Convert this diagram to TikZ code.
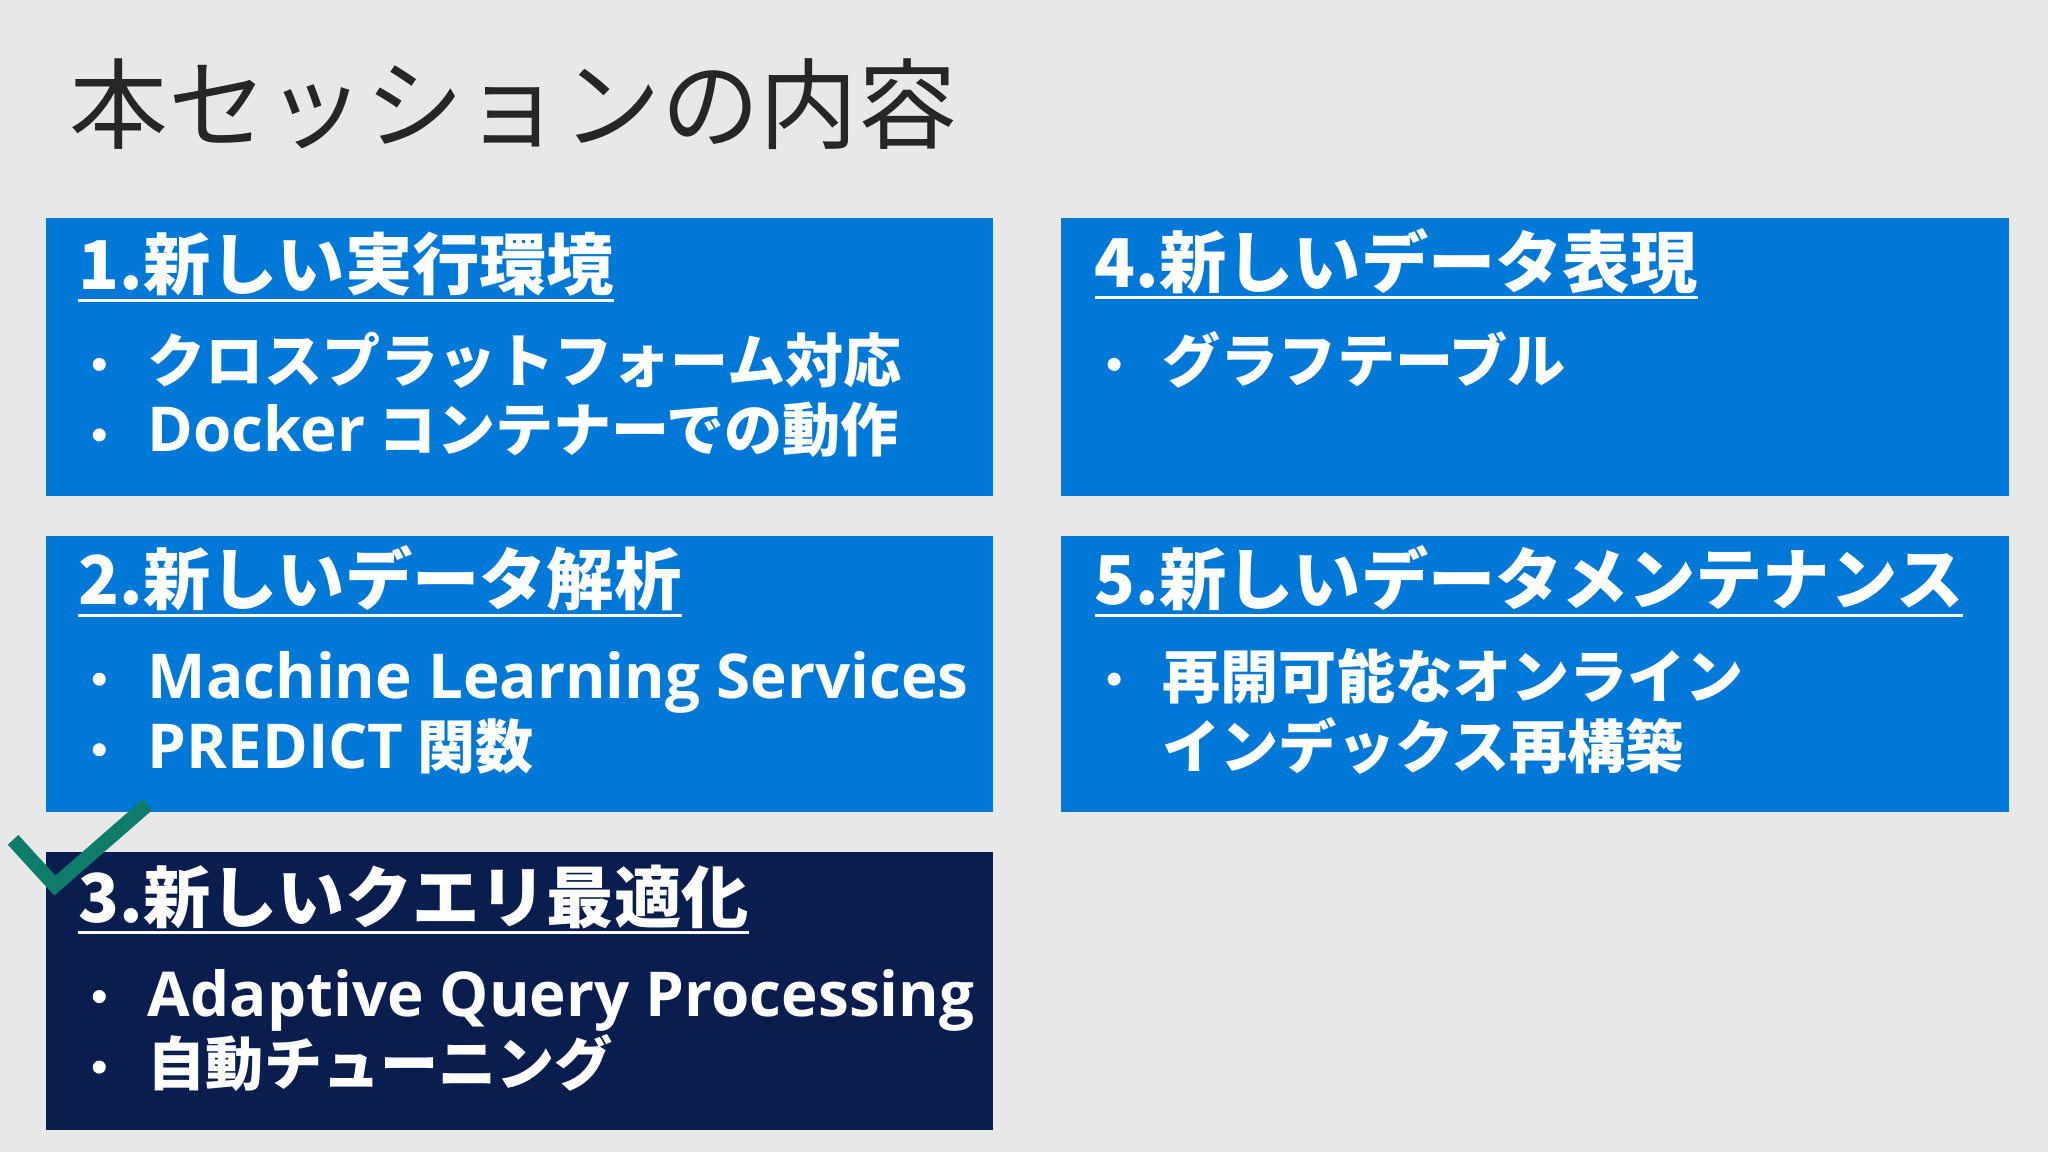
\documentclass[tikz,border=0pt]{standalone}
\usepackage{fontspec}
\setmainfont{Noto Sans CJK JP}
\newfontfamily\lat[Scale=1.065]{Open Sans}
\definecolor{bg}{HTML}{E8E8E8}
\definecolor{boxblue}{HTML}{0078D7}
\definecolor{boxnavy}{HTML}{0A1D4F}
\definecolor{chk}{HTML}{0E7C6B}
\definecolor{ttl}{HTML}{262626}
\tikzset{
 box/.style={fill=boxblue,draw=none},
 hd/.style={anchor=base west,inner sep=0pt,text=white,font=\fontsize{51.5}{51.5}\selectfont\bfseries},
 it/.style={anchor=base west,inner sep=0pt,text=white,font=\fontsize{44.5}{44.5}\selectfont\bfseries},
 dot/.style={circle,fill=white,inner sep=0pt,minimum size=10pt},
 ul/.style={white,line width=2.5pt}
}
\begin{document}
\begin{tikzpicture}[x=1pt,y=-1pt]
\useasboundingbox (0,0) rectangle (1568,882);
\fill[bg] (0,0) rectangle (1568,882);
\node[anchor=base west,inner sep=0pt,text=ttl,font=\fontsize{75.5}{75.5}\selectfont] (title) at (53,108) {本セッションの内容};
\fill[box] (35,167) rectangle (760,380);
\fill[box] (812,167) rectangle (1538,380);
\fill[box] (35,410) rectangle (760,622);
\fill[box] (812,410) rectangle (1538,622);
\fill[boxnavy] (35,652) rectangle (760,865);
% headings
\node[hd] (h1) at (60,222) {1.新しい実行環境};
\node[hd] (h4) at (838,220) {4.新しいデータ表現};
\node[hd] (h2) at (60,463) {2.新しいデータ解析};
\node[hd] (h5) at (838,463) {5.新しいデータメンテナンス};
\node[hd] (h3) at (60,706) {3.新しいクエリ最適化};
\foreach \h in {h1,h2,h3,h4,h5}{\draw[ul] ([yshift=-8pt]\h.base west) -- ([yshift=-8pt]\h.base east);}
% bullets
\foreach \x/\y in {76/279,76/333,853/279,76/520,76/574,853/520,76/763,76/817}{\node[dot] at (\x,\y) {};}
\node[it] (a1) at (113,293) {クロスプラットフォーム対応};
\node[it] (a2) at (113,346) {{\lat Docker} コンテナーでの動作};
\node[it] (d1) at (890,293) {グラフテーブル};
\node[it] (b1) at (113,535) {{\lat Machine Learning Services}};
\node[it] (b2) at (113,588) {{\lat PREDICT} 関数};
\node[it] (e1) at (890,535) {再開可能なオンライン};
\node[it] (e2) at (890,588) {インデックス再構築};
\node[it] (c1) at (113,778) {{\lat Adaptive Query Processing}};
\node[it] (c2) at (113,831) {自動チューニング};
% check
\draw[chk,line width=11pt] (10,643) -- (42,678) -- (113,616);
\end{tikzpicture}
\end{document}
